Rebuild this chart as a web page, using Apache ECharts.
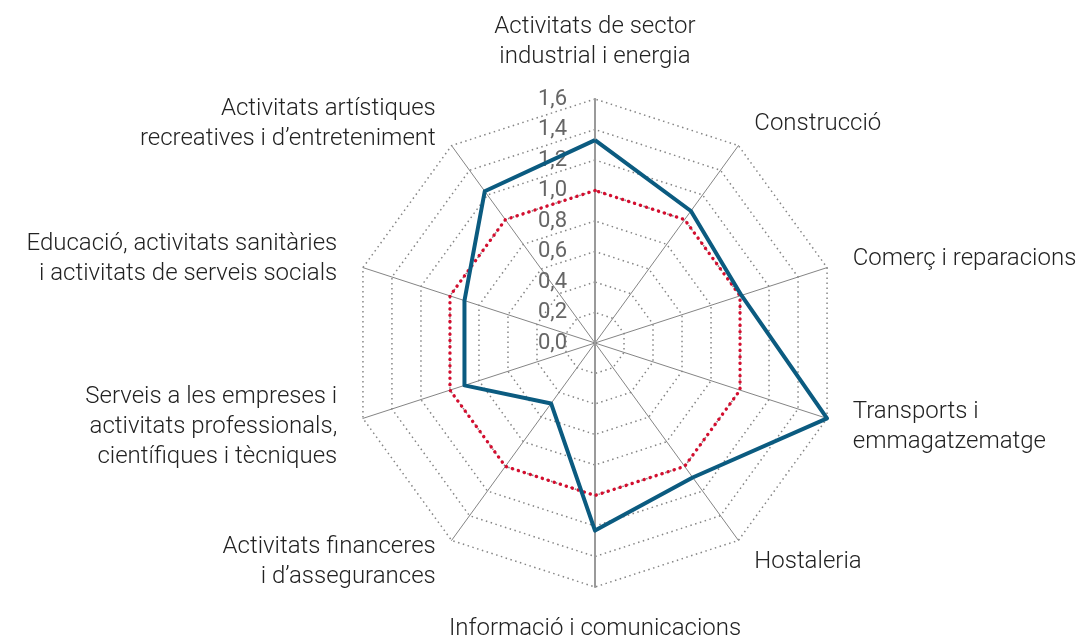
<!DOCTYPE html>
<html>
<head>
<meta charset="utf-8">
<script src="https://cdn.jsdelivr.net/npm/echarts@6/dist/echarts.min.js"></script>
<style>
  html, body { margin: 0; padding: 0; background: #fff; }
  #chart { width: 1080px; height: 637px; }
</style>
</head>
<body>
<div id="chart"></div>
<script>
// indicadors, en l'ordre d'ECharts (antihorari des de dalt)
const categories = [
  'Activitats de sector\nindustrial i energia',
  'Activitats artístiques\nrecreatives i d’entreteniment',
  'Educació, activitats sanitàries\ni activitats de serveis socials',
  'Serveis a les empreses i\nactivitats professionals,\ncientífiques i tècniques',
  'Activitats financeres\ni d’assegurances',
  'Informació i comunicacions',
  'Hostaleria',
  'Transports i\nemmagatzematge',
  'Comerç i reparacions',
  'Construcció'
]

// índex de l'activitat
const values = [1.33, 1.23, 0.90, 0.90, 0.49, 1.23, 1.09, 1.60, 1.01, 1.07]
// línia de referència
const reference = [1, 1, 1, 1, 1, 1, 1, 1, 1, 1]

const axisMax = 1.6
const axisStep = 0.2

const chart = echarts.init(document.getElementById('chart'))

const font = 'Roboto, "Open Sans", sans-serif'

const option = {
  backgroundColor: '#fff',
  animation: false,
  // eix vertical amb les etiquetes 0,0 - 1,6
  grid: { left: 595, top: 99, height: 488, width: 10 },
  xAxis: { type: 'value', show: false },
  yAxis: {
    type: 'value',
    min: -axisMax,
    max: axisMax,
    interval: axisStep,
    axisLine: { show: true, lineStyle: { color: '#9a9a9a', width: 2 } },
    axisTick: { show: false },
    splitLine: { show: false },
    axisLabel: {
      margin: 28,
      fontSize: 22,
      fontFamily: font,
      color: '#666',
      formatter: (v) => (v < -1e-6 ? '' : Math.abs(v).toFixed(1).replace('.', ','))
    }
  },
  radar: {
    center: [595, 343],
    radius: 244,
    startAngle: 90,
    shape: 'polygon',
    splitNumber: axisMax / axisStep,
    indicator: categories.map((name) => ({ name, min: 0, max: axisMax })),
    nameGap: 27,
    axisName: {
      color: '#222',
      fontSize: 24,
      fontFamily: font,
      fontWeight: 300,
      lineHeight: 30
    },
    axisLine: { lineStyle: { color: '#858585', width: 1 } },
    axisLabel: { show: false },
    splitArea: { show: false },
    splitLine: {
      lineStyle: { color: '#858585', width: 1.5, type: [1.5, 3.5] }
    }
  },
  series: [
    {
      type: 'radar',
      symbol: 'none',
      silent: true,
      data: [
        {
          value: reference,
          name: 'Referència',
          lineStyle: { color: '#d40d2e', width: 3.4, type: [0.1, 6.2], cap: 'round' }
        },
        {
          value: values,
          name: 'Índex',
          lineStyle: { color: '#0b5b80', width: 4 }
        }
      ]
    }
  ]
}

chart.setOption(option)
</script>
</body>
</html>
